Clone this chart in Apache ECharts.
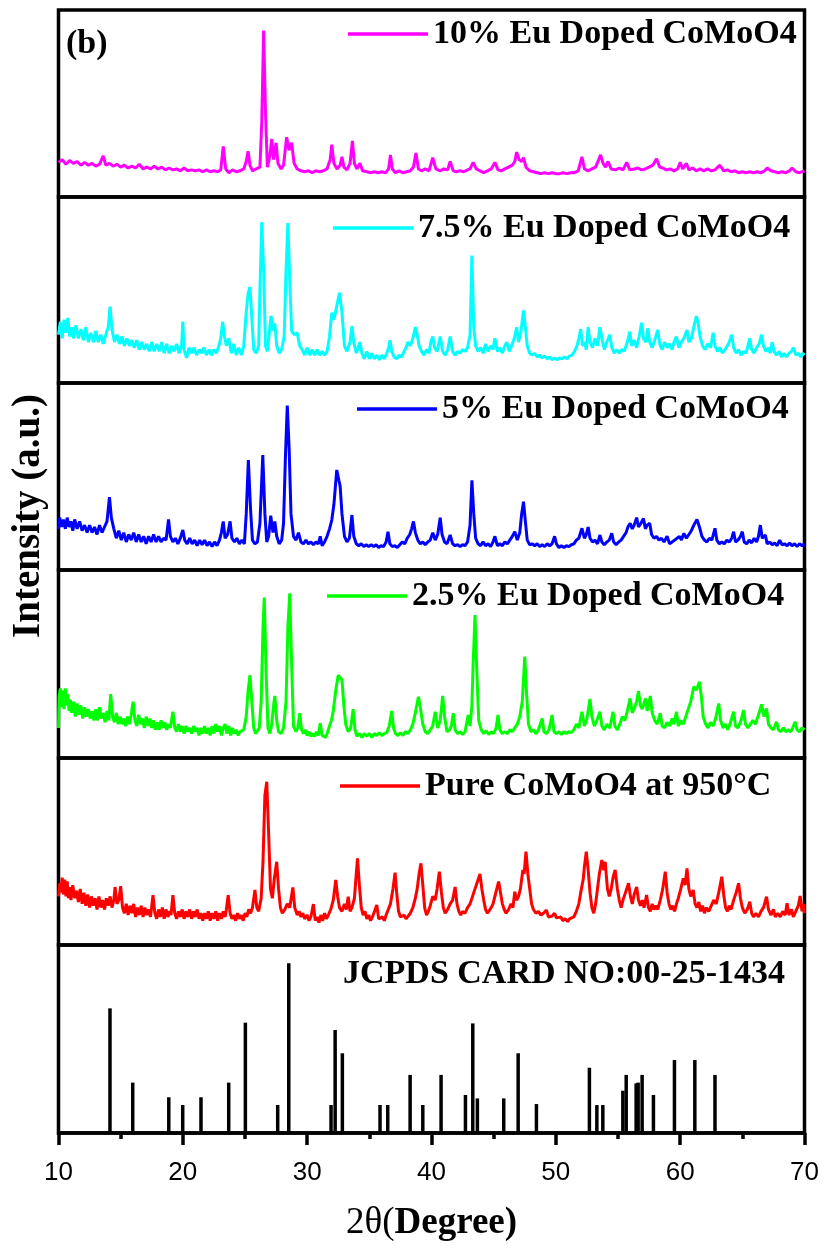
<!DOCTYPE html>
<html>
<head>
<meta charset="utf-8">
<script src="https://cdn.jsdelivr.net/npm/echarts@6/dist/echarts.min.js"></script>
<style>
  html, body { margin: 0; padding: 0; background: #fff; }
  #chart { width: 825px; height: 1255px; }
</style>
</head>
<body>
<div id="chart"></div>
<script>
// sample names, top panel first
const sampleNames = ['10% Eu Doped CoMoO4', '7.5% Eu Doped CoMoO4', '5% Eu Doped CoMoO4', '2.5% Eu Doped CoMoO4', 'Pure CoMoO4 at 950°C'];
const sampleColors = ['#ff00ff', '#00ffff', '#0000ff', '#00ff00', '#ff0000'];
const refName = 'JCPDS CARD NO:00-25-1434';
const xTicks = [10, 20, 30, 40, 50, 60, 70];

// [2theta, intensity a.u.]
const eu10 = [[10.0,18.5],[10.3,20],[10.6,17.5],[10.9,19.5],[11.2,18],[11.5,19],[11.8,17],[12.1,18.5],[12.4,17],[12.7,18],[13.0,16.5],[13.3,17.5],[13.6,22],[13.8,17],[14.1,18],[14.4,16.5],[14.7,17.5],[15.0,16],[15.3,17],[15.6,15.5],[15.9,16.5],[16.2,15.5],[16.5,17.5],[16.8,15],[17.1,16],[17.4,15],[17.7,16.5],[18.0,15],[18.3,16],[18.6,14.5],[18.9,15.5],[19.2,14.5],[19.5,15],[19.8,14],[20.1,15.5],[20.4,14],[20.7,14.5],[21.0,14],[21.3,14.5],[21.6,13.5],[21.9,14.5],[22.2,13.5],[22.5,14],[22.8,13.5],[23.05,14.5],[23.25,27],[23.45,15],[23.7,13],[24.0,14.5],[24.3,13.5],[24.6,14],[24.9,15],[25.1,19],[25.25,24.5],[25.4,17],[25.6,14],[25.9,15],[26.2,16],[26.35,40],[26.5,89],[26.65,45],[26.8,16],[27.0,22],[27.15,31],[27.3,20],[27.5,29],[27.65,18],[27.9,15],[28.1,17],[28.35,32],[28.55,25],[28.75,29],[28.95,18],[29.2,15],[29.5,14],[29.8,13.5],[30.1,14],[30.4,13],[30.7,14],[31.0,13.5],[31.3,14],[31.6,15],[31.85,20],[31.98,28],[32.15,18],[32.4,15],[32.65,17],[32.8,21.5],[32.95,16],[33.2,14.5],[33.45,18],[33.64,30],[33.8,18],[34.0,15],[34.25,18],[34.45,14],[34.8,13.5],[35.1,13],[35.4,13.5],[35.7,13],[36.0,13.5],[36.3,13],[36.55,15],[36.7,22.5],[36.85,15],[37.1,13],[37.4,14],[37.7,13],[38.0,13.5],[38.3,14],[38.55,16],[38.75,23.5],[38.95,15],[39.2,14],[39.5,15],[39.8,14],[40.1,21],[40.35,15],[40.7,14],[41.0,15],[41.3,14.5],[41.5,19],[41.75,14],[42.0,13.5],[42.3,14],[42.6,13.5],[42.9,14.5],[43.1,15],[43.35,18.5],[43.6,15],[43.9,14],[44.2,13],[44.5,14],[44.8,15],[45.1,18.5],[45.35,14.5],[45.6,14],[45.9,15],[46.2,16],[46.5,17],[46.7,19],[46.85,24],[47.05,20],[47.25,19],[47.4,21],[47.6,16],[47.9,14],[48.2,13.5],[48.5,13],[48.8,12.5],[49.1,13],[49.4,12.5],[49.7,13],[50.0,12.5],[50.3,12.5],[50.6,13],[50.9,12.5],[51.2,13],[51.5,13],[51.8,14],[52.1,21.5],[52.3,15],[52.6,14],[52.9,15],[53.2,16],[53.45,20],[53.6,22.5],[53.8,18],[54.0,16],[54.2,19],[54.45,15],[54.8,14.5],[55.1,15.5],[55.4,14.5],[55.7,18.5],[55.95,14.5],[56.3,15],[56.6,15.5],[56.9,14.5],[57.2,15],[57.5,16],[57.8,17],[58.1,20.5],[58.35,16],[58.6,15.5],[58.9,14.5],[59.2,15],[59.5,14],[59.8,15],[60.0,18.5],[60.2,15],[60.5,18],[60.7,14.5],[61.0,15.5],[61.3,14],[61.6,15],[61.9,14],[62.2,15],[62.5,14],[62.8,14.5],[63.2,17],[63.5,14],[63.8,14.5],[64.1,13.5],[64.4,14],[64.7,13],[65.0,13.5],[65.3,13],[65.6,13.5],[65.9,13],[66.2,13.5],[66.5,13],[66.8,14],[67.0,15.5],[67.3,14],[67.6,13.5],[67.9,13],[68.2,13.5],[68.5,13],[68.8,14],[69.0,15.5],[69.3,13.5],[69.6,13],[70.0,14]];

const eu75 = [[10.0,26],[10.15,33],[10.3,24],[10.45,34],[10.6,27],[10.75,35],[10.9,25],[11.05,30],[11.2,24],[11.4,31],[11.6,24],[11.8,29],[12.0,23],[12.2,30],[12.4,22],[12.6,27],[12.8,22],[13.0,28],[13.2,22],[13.4,26],[13.6,21],[13.85,27],[14.0,30],[14.15,41],[14.3,29],[14.5,22],[14.7,26],[14.9,21],[15.1,25],[15.3,20],[15.5,24],[15.7,20],[15.9,23],[16.1,19],[16.3,23],[16.5,18],[16.7,22],[16.9,18],[17.1,21],[17.3,17],[17.5,22],[17.7,17],[17.9,21],[18.1,17],[18.3,22],[18.5,16],[18.7,21],[18.9,16],[19.1,20],[19.3,17],[19.5,21],[19.7,16],[19.9,20],[20.0,33],[20.1,18],[20.3,13.5],[20.5,19],[20.7,16],[20.9,19],[21.1,15],[21.3,18],[21.5,16],[21.7,19],[21.9,15],[22.1,18],[22.3,15],[22.5,18],[22.7,16],[22.9,20],[23.05,24],[23.2,33],[23.35,25],[23.5,20],[23.7,24],[23.9,16],[24.1,21],[24.3,15],[24.5,19],[24.7,15],[24.9,20],[25.1,38],[25.25,48],[25.4,51.6],[25.55,35],[25.7,18],[25.9,16],[26.1,20],[26.2,50],[26.35,86.5],[26.5,60],[26.65,20],[26.8,17],[27.0,30],[27.1,36],[27.25,28],[27.4,32],[27.55,20],[27.75,16],[27.95,18],[28.15,25],[28.3,60],[28.45,86],[28.6,55],[28.75,28],[28.95,26],[29.2,27],[29.4,20],[29.6,18],[29.8,15],[30.0,19],[30.2,15],[30.4,18],[30.6,15],[30.8,18],[31.0,15],[31.2,17],[31.4,15],[31.6,17],[31.8,25],[31.98,37.8],[32.15,34],[32.4,42],[32.6,48.5],[32.8,38],[33.0,20],[33.2,17],[33.45,22],[33.6,30.6],[33.75,22],[33.95,16],[34.1,19],[34.25,22],[34.4,16],[34.6,13],[34.8,17],[35.0,13],[35.2,16],[35.4,13],[35.6,15],[35.8,12.5],[36.0,15],[36.2,13],[36.4,16],[36.55,19],[36.67,23],[36.8,17],[37.0,14],[37.2,13],[37.4,15],[37.6,14],[37.8,17],[37.95,19],[38.1,22],[38.3,20],[38.5,24],[38.7,30],[38.85,26],[39.0,20],[39.2,17],[39.4,15],[39.6,18],[39.8,16],[39.95,22],[40.1,25],[40.25,19],[40.45,17],[40.7,25],[40.9,17],[41.1,15],[41.3,18],[41.5,25],[41.7,17],[41.9,15],[42.1,17],[42.3,16],[42.5,18],[42.7,17],[42.9,19],[43.1,26],[43.25,68.5],[43.4,30],[43.55,20],[43.75,17],[43.95,19],[44.15,16],[44.35,21],[44.55,17],[44.75,20],[44.95,18],[45.1,24],[45.3,17],[45.5,19],[45.7,16],[45.9,20],[46.05,22],[46.25,17],[46.5,21],[46.7,25],[46.85,30],[47.0,22],[47.2,28],[47.4,39],[47.55,30],[47.7,20],[47.9,16],[48.1,15],[48.3,16],[48.5,14],[48.7,15],[48.9,13.5],[49.1,14.5],[49.3,13],[49.5,14],[49.7,12.5],[49.9,13.5],[50.1,12.5],[50.3,13.5],[50.5,13],[50.7,14],[50.9,13],[51.1,14.5],[51.3,15],[51.5,17],[51.7,20],[51.85,24],[52.0,29],[52.15,20],[52.3,22],[52.45,18],[52.6,30],[52.75,22],[52.95,19],[53.15,24],[53.35,20],[53.55,30],[53.7,24],[53.9,18],[54.1,22],[54.35,26],[54.5,19],[54.7,16],[54.9,18],[55.1,16],[55.3,18],[55.5,17],[55.75,22],[55.95,27.6],[56.1,20],[56.3,23],[56.5,19],[56.7,25],[56.9,32.4],[57.05,24],[57.25,22],[57.4,29.5],[57.55,22],[57.75,19],[57.95,23],[58.2,28.5],[58.35,21],[58.55,18],[58.75,22],[58.95,19],[59.15,21],[59.35,18],[59.5,22],[59.7,25],[59.9,19],[60.1,22],[60.3,24],[60.55,28.5],[60.7,22],[60.9,24],[61.1,30],[61.3,36],[61.45,32],[61.6,25],[61.8,20],[62.0,18],[62.2,21],[62.45,19],[62.65,27],[62.8,20],[63.0,17],[63.2,19],[63.4,16],[63.6,18],[63.8,20],[63.95,22],[64.15,26],[64.3,19],[64.5,16],[64.7,18],[64.9,15],[65.1,17],[65.3,16],[65.45,20],[65.6,24],[65.75,18],[65.95,16],[66.15,19],[66.35,21],[66.55,26],[66.7,20],[66.9,17],[67.1,19],[67.25,16],[67.4,22],[67.55,17],[67.75,15],[67.95,17],[68.15,14],[68.35,16],[68.55,14],[68.75,16],[68.95,17],[69.1,19],[69.3,15],[69.5,16],[69.7,14],[69.85,16],[70.0,15]];

const eu5 = [[10.0,22],[10.1,28],[10.25,23],[10.4,27],[10.55,22],[10.7,28],[10.85,23],[11.0,26],[11.15,21],[11.3,27],[11.5,22],[11.7,26],[11.9,21],[12.1,24],[12.3,20],[12.5,24],[12.7,20],[12.9,23],[13.1,19],[13.3,24],[13.5,20],[13.7,23],[13.9,26],[14.1,39],[14.25,28],[14.45,22],[14.65,17],[14.85,21],[15.05,16],[15.25,20],[15.45,15],[15.65,19],[15.85,16],[16.05,20],[16.25,15],[16.45,19],[16.65,15],[16.85,18],[17.05,14],[17.25,18],[17.45,15],[17.65,19],[17.85,15],[18.05,18],[18.25,15],[18.45,17],[18.65,16],[18.85,27],[19.0,18],[19.2,15],[19.4,17],[19.6,14],[19.8,17],[20.0,21.4],[20.15,16],[20.35,14],[20.55,17],[20.75,14],[20.95,16],[21.15,13],[21.35,16],[21.55,13.5],[21.75,16],[21.95,13],[22.15,15],[22.35,12.5],[22.55,15],[22.75,13],[22.95,16],[23.1,20],[23.25,26],[23.4,17],[23.6,19],[23.8,26],[23.95,17],[24.15,15],[24.35,17],[24.55,14],[24.75,16],[24.95,14],[25.1,30],[25.27,58.8],[25.45,32],[25.6,16],[25.8,14],[26.0,15],[26.2,25],[26.43,61.5],[26.6,30],[26.75,15],[26.9,18],[27.07,29],[27.25,20],[27.4,26],[27.55,18],[27.75,14],[27.95,16],[28.1,25],[28.25,60],[28.4,88],[28.55,65],[28.7,30],[28.9,18],[29.1,16],[29.3,20],[29.5,15],[29.7,14],[29.9,16],[30.1,14],[30.3,15],[30.5,13.5],[30.7,15],[30.9,14],[31.05,18],[31.2,13],[31.4,15],[31.6,18],[31.8,22],[31.98,26.7],[32.15,35],[32.38,53.5],[32.55,48],[32.65,45],[32.8,30],[33.0,18],[33.2,15],[33.4,17],[33.6,29.4],[33.75,18],[33.95,14],[34.15,13],[34.35,14],[34.55,12.5],[34.75,13.5],[34.95,12.5],[35.15,13.5],[35.35,12.5],[35.55,13.5],[35.75,12],[35.95,13],[36.15,12.5],[36.35,15],[36.5,20.5],[36.65,14],[36.85,12.5],[37.05,13],[37.25,12],[37.45,13.5],[37.65,15],[37.85,14],[38.05,17],[38.25,19],[38.4,22],[38.55,26],[38.7,20],[38.9,16],[39.1,14],[39.3,15],[39.5,13.5],[39.7,15],[39.9,16],[40.1,20],[40.3,16],[40.5,19],[40.7,28],[40.85,19],[41.05,15],[41.25,14],[41.5,18.7],[41.7,14],[41.9,13],[42.1,13.5],[42.3,12.5],[42.5,13.5],[42.7,13],[42.9,15],[43.1,24],[43.25,48],[43.4,30],[43.55,17],[43.75,14],[43.95,13],[44.15,15],[44.35,13],[44.55,14],[44.75,12.5],[44.95,15],[45.1,18],[45.3,13],[45.5,14],[45.7,13],[45.9,15],[46.1,14],[46.3,16],[46.5,18],[46.7,20.5],[46.9,16],[47.1,20],[47.25,30],[47.4,36.5],[47.55,26],[47.7,16],[47.9,13.5],[48.1,14],[48.3,13],[48.5,14],[48.7,12.5],[48.9,13.5],[49.1,12.5],[49.3,14],[49.5,13],[49.7,14],[49.9,18],[50.05,14],[50.25,12],[50.45,13],[50.65,12],[50.85,13],[51.05,12.5],[51.25,13.5],[51.45,14],[51.65,16],[51.85,17],[52.1,22.3],[52.3,17],[52.45,19],[52.6,23],[52.75,17],[52.95,15],[53.15,16],[53.35,14],[53.55,18.7],[53.7,15],[53.9,13.5],[54.1,15],[54.3,16],[54.5,19.6],[54.65,15],[54.85,13.5],[55.05,15],[55.25,16],[55.45,18],[55.65,20],[55.8,23],[55.98,25],[56.15,22],[56.3,24],[56.5,28],[56.65,23],[56.85,25],[57.05,27.6],[57.2,22],[57.35,24],[57.55,25],[57.7,19],[57.9,17],[58.1,18],[58.3,16],[58.5,17],[58.7,15],[58.95,18],[59.15,14],[59.35,15],[59.55,16],[59.75,17],[59.95,18],[60.1,16],[60.3,19.6],[60.5,17],[60.7,19],[60.9,21],[61.1,24],[61.35,27],[61.55,23],[61.75,18],[61.95,16],[62.15,15],[62.35,17],[62.55,16],[62.8,22.3],[62.95,16],[63.15,14],[63.35,15],[63.55,14],[63.75,16],[63.95,15],[64.15,17],[64.3,20.5],[64.45,15],[64.65,16],[64.85,18],[65.0,20.5],[65.15,15],[65.35,14],[65.55,16],[65.75,14.5],[65.95,17],[66.15,15],[66.3,18],[66.45,24],[66.6,17],[66.85,18.7],[67.0,14],[67.2,15],[67.4,13.5],[67.6,14.5],[67.8,13],[68.0,16],[68.2,13.5],[68.4,14],[68.6,13],[68.8,14.5],[69.0,13],[69.2,14],[69.4,12.5],[69.6,14],[69.8,13],[70.0,14]];

const eu25 = [[10.0,16],[10.05,33],[10.15,37],[10.25,27],[10.35,36],[10.45,26],[10.55,37],[10.65,28],[10.75,34],[10.85,25],[10.95,31],[11.05,24],[11.2,30],[11.35,22],[11.5,29],[11.65,23],[11.8,28],[11.95,21],[12.1,27],[12.25,22],[12.4,26],[12.55,21],[12.7,25],[12.85,20],[13.0,26],[13.15,20],[13.3,27],[13.45,21],[13.6,24],[13.75,19],[13.9,25],[14.05,20],[14.2,34],[14.35,22],[14.5,19],[14.65,24],[14.8,18],[14.95,22],[15.1,18],[15.25,21],[15.4,17],[15.55,22],[15.7,18],[15.85,23],[16.0,30],[16.15,20],[16.3,17],[16.45,23],[16.6,18],[16.75,21],[16.9,16],[17.05,22],[17.2,17],[17.35,21],[17.5,16],[17.65,20],[17.8,15],[17.95,19],[18.1,15],[18.25,20],[18.4,16],[18.55,19],[18.7,15],[18.85,18],[19.0,16],[19.2,24.6],[19.35,16],[19.5,14],[19.65,18],[19.8,14],[19.95,17],[20.1,13],[20.25,17],[20.4,14],[20.55,16],[20.7,13],[20.85,17],[21.0,14],[21.15,16],[21.3,12],[21.45,16],[21.6,13],[21.75,17],[21.9,13],[22.05,16],[22.2,12],[22.35,17],[22.5,13],[22.65,18],[22.8,14],[22.95,17],[23.1,12],[23.25,16],[23.4,18],[23.55,13],[23.7,17],[23.85,12],[24.0,16],[24.15,13],[24.3,15],[24.45,12],[24.6,14],[24.75,13],[24.9,15],[25.1,22],[25.25,36],[25.4,44],[25.55,30],[25.7,16],[25.85,13],[26.0,14],[26.15,16],[26.3,30],[26.45,70],[26.55,85.3],[26.7,45],[26.85,16],[27.0,13],[27.15,18],[27.3,28],[27.4,33],[27.55,20],[27.7,14],[27.9,13],[28.1,16],[28.3,30],[28.45,70],[28.6,87.6],[28.75,50],[28.9,17],[29.1,14],[29.25,16],[29.4,23.8],[29.55,15],[29.7,13],[29.85,15],[30.0,12],[30.15,14],[30.3,11.5],[30.45,13],[30.6,11.5],[30.75,14],[30.9,12],[31.05,18.5],[31.2,12],[31.35,13],[31.5,11],[31.65,14],[31.8,17],[31.95,20],[32.1,25],[32.3,36],[32.5,44],[32.65,43],[32.8,41.5],[32.95,28],[33.1,18],[33.3,14],[33.5,16],[33.7,26],[33.85,15],[34.0,11.5],[34.2,13],[34.4,11],[34.6,13],[34.8,11.5],[35.0,13],[35.2,11],[35.4,13],[35.6,12],[35.8,13.5],[36.0,12],[36.2,13],[36.4,13.5],[36.6,17],[36.8,25],[36.95,16],[37.1,13],[37.3,12],[37.5,13.5],[37.7,12],[37.9,14],[38.1,13],[38.3,15],[38.5,18],[38.7,24],[38.95,32.6],[39.1,27],[39.3,18],[39.5,14],[39.7,13],[39.9,15],[40.1,17],[40.3,24.6],[40.5,16],[40.7,20],[40.9,33],[41.05,22],[41.25,14],[41.45,15],[41.6,17],[41.75,23.8],[41.9,15],[42.1,13],[42.3,14],[42.5,12.5],[42.7,14],[42.95,22.9],[43.1,17],[43.25,28],[43.35,50],[43.5,76],[43.65,45],[43.8,20],[44.0,15],[44.2,13],[44.4,14.5],[44.6,12.5],[44.8,14],[45.0,13],[45.2,16],[45.35,22.9],[45.5,15],[45.7,13],[45.9,14],[46.1,13],[46.3,15],[46.5,14],[46.7,16],[46.9,18],[47.1,22],[47.3,30],[47.5,53.9],[47.65,34],[47.8,18],[48.0,14],[48.2,15],[48.4,13],[48.6,15],[48.75,14],[48.9,21],[49.05,14],[49.25,13],[49.45,15],[49.7,22.9],[49.85,14],[50.05,13],[50.25,14],[50.45,12.5],[50.65,14],[50.85,13],[51.05,14],[51.25,13.5],[51.45,15],[51.65,18],[51.85,16],[52.1,24.6],[52.3,17],[52.5,21],[52.75,31.4],[52.9,22],[53.1,17],[53.3,20],[53.55,24.6],[53.7,17],[53.9,15],[54.1,18],[54.35,16],[54.6,24.6],[54.75,17],[54.95,15],[55.15,18],[55.35,22],[55.55,20],[55.75,25],[55.97,31.7],[56.15,24],[56.35,27],[56.5,30],[56.65,35.6],[56.8,28],[56.95,26],[57.1,29],[57.2,31.7],[57.35,25],[57.6,33],[57.75,24],[57.95,20],[58.15,18],[58.4,23.8],[58.55,17],[58.75,16],[58.95,19],[59.15,17],[59.35,21],[59.5,18],[59.7,24.6],[59.85,17],[60.05,20],[60.25,18],[60.45,22],[60.65,26],[60.85,30],[61.1,38],[61.3,36],[61.55,40.6],[61.7,33],[61.85,22],[62.05,18],[62.25,16],[62.45,19],[62.65,17],[62.85,21],[63.1,29],[63.25,20],[63.45,16],[63.65,18],[63.85,15],[64.05,19],[64.3,24.6],[64.45,17],[64.65,16],[64.9,20],[65.1,25.5],[65.25,18],[65.45,16],[65.65,18],[65.85,20],[66.05,18],[66.25,22],[66.55,28.5],[66.75,22],[66.95,26.4],[67.1,18],[67.3,16],[67.5,15],[67.75,19.3],[67.9,15],[68.1,14],[68.3,16],[68.5,14],[68.7,15],[68.9,14],[69.05,16],[69.25,19.3],[69.4,15],[69.6,14],[69.8,16],[70.0,15]];

const pure = [[10.0,26],[10.1,33],[10.2,28],[10.3,36],[10.4,27],[10.5,35],[10.6,26],[10.7,34],[10.8,25],[10.9,31],[11.0,24],[11.15,32],[11.3,25],[11.45,29],[11.6,23],[11.75,30],[11.9,22],[12.05,28],[12.2,21],[12.35,27],[12.5,20],[12.65,26],[12.8,21],[12.95,25],[13.1,19],[13.25,26],[13.4,20],[13.55,24],[13.7,19],[13.85,25],[14.0,21],[14.15,26],[14.3,20],[14.45,24],[14.55,31],[14.7,22],[14.85,24],[15.0,31.5],[15.15,20],[15.3,17],[15.45,22],[15.6,16],[15.75,21],[15.9,17],[16.05,22],[16.2,15],[16.35,20],[16.5,16],[16.65,21],[16.8,15],[16.95,20],[17.1,16],[17.25,19],[17.4,15],[17.6,26.7],[17.75,17],[17.9,14],[18.05,19],[18.2,15],[18.35,20],[18.5,14],[18.65,19],[18.8,15],[18.95,18],[19.05,16],[19.2,26.7],[19.35,17],[19.5,14],[19.65,18],[19.8,15],[19.95,19],[20.1,14],[20.25,18],[20.4,15],[20.55,19],[20.7,14],[20.85,18],[21.0,15],[21.15,19],[21.3,14],[21.45,17],[21.6,13],[21.75,17],[21.9,14],[22.05,18],[22.2,13],[22.35,17],[22.5,14],[22.65,18],[22.8,13],[22.95,17],[23.1,14],[23.25,18],[23.4,15],[23.5,19],[23.65,26.7],[23.8,17],[23.95,14],[24.1,16],[24.25,13],[24.4,17],[24.55,14],[24.7,16],[24.85,13],[25.0,17],[25.15,15],[25.3,19],[25.45,17],[25.6,20],[25.8,29.4],[25.95,20],[26.1,18],[26.3,25],[26.45,45],[26.6,80],[26.75,87.3],[26.9,60],[27.05,30],[27.2,25],[27.35,35],[27.55,44.5],[27.7,30],[27.85,20],[28.0,17],[28.2,19],[28.4,22],[28.6,20],[28.85,30.8],[29.0,20],[29.2,16],[29.35,18],[29.5,15],[29.65,17],[29.8,14],[30.0,16],[30.15,13],[30.3,15],[30.5,21.9],[30.65,13],[30.8,15],[30.95,12],[31.1,16],[31.25,13],[31.4,17],[31.55,14],[31.7,16],[31.9,19],[32.1,24],[32.3,34.8],[32.45,26],[32.6,20],[32.8,18],[33.0,22],[33.15,19],[33.3,25.8],[33.45,18],[33.6,20],[33.8,25],[33.95,38],[34.05,46.3],[34.2,32],[34.35,20],[34.5,16],[34.65,18],[34.8,14],[34.95,16],[35.1,13],[35.25,15],[35.4,14],[35.6,21.4],[35.75,14],[35.9,13],[36.05,15],[36.2,13],[36.35,16],[36.5,17],[36.7,22],[36.9,30],[37.07,38.7],[37.2,28],[37.35,18],[37.5,15],[37.65,14],[37.8,16],[37.95,14],[38.1,15],[38.3,17],[38.5,20],[38.7,25],[38.85,30],[39.0,38],[39.15,43.7],[39.3,32],[39.45,20],[39.6,16],[39.75,18],[39.9,21],[40.1,26],[40.3,24],[40.45,30],[40.63,39.2],[40.8,28],[40.95,20],[41.1,17],[41.3,19],[41.5,22],[41.7,24],[41.9,31],[42.05,22],[42.2,18],[42.35,16],[42.5,18],[42.7,17],[42.9,20],[43.1,22],[43.3,26],[43.5,30],[43.7,34],[43.9,38],[44.05,30],[44.2,24],[44.35,19],[44.5,17],[44.65,18],[44.8,20],[44.95,22],[45.1,26],[45.25,30],[45.4,33.9],[45.55,28],[45.7,22],[45.85,19],[46.0,17],[46.2,19],[46.4,22],[46.55,20],[46.7,28.5],[46.85,24],[47.0,26],[47.15,30],[47.35,40.1],[47.45,38],[47.6,49.9],[47.75,38],[47.9,30],[48.05,22],[48.2,19],[48.4,17],[48.6,18],[48.8,16],[49.0,17],[49.25,18.7],[49.4,15],[49.55,14],[49.7,15.5],[49.9,17],[50.05,14.5],[50.2,13.5],[50.4,15],[50.55,13],[50.75,14],[50.95,12.5],[51.1,14],[51.25,13],[51.45,15],[51.65,18],[51.85,22],[52.0,28],[52.2,35],[52.3,42],[52.45,49.9],[52.6,40],[52.75,28],[52.9,20],[53.05,17],[53.2,22],[53.35,30],[53.5,38],[53.7,45.5],[53.85,40],[53.97,44.5],[54.15,30],[54.3,26],[54.45,30],[54.6,36],[54.77,40.1],[54.95,30],[55.1,24],[55.25,20],[55.4,24],[55.6,28],[55.85,33],[56.0,26],[56.15,22],[56.3,27],[56.5,31],[56.65,24],[56.8,21],[56.95,24],[57.1,20],[57.3,26.7],[57.45,20],[57.6,18],[57.75,22],[57.9,19],[58.05,21],[58.2,19],[58.4,24],[58.6,30],[58.8,39.2],[58.95,28],[59.1,22],[59.25,19],[59.4,21],[59.55,18],[59.7,22],[59.85,25],[60.05,30],[60.25,35.7],[60.4,32],[60.55,41],[60.7,30],[60.85,26],[61.05,29.4],[61.2,22],[61.35,20],[61.5,23],[61.65,18],[61.8,21],[61.95,17],[62.1,20],[62.3,18],[62.5,21],[62.7,24],[62.9,22],[63.1,28],[63.35,36.5],[63.5,27],[63.65,20],[63.8,18],[63.95,21],[64.1,19],[64.3,24],[64.5,28],[64.7,33],[64.85,25],[65.0,20],[65.2,17],[65.4,19],[65.6,23.2],[65.75,17],[65.9,15],[66.1,17],[66.3,15],[66.5,18],[66.7,20],[66.95,25.8],[67.1,19],[67.3,16],[67.5,19],[67.65,15],[67.85,17],[68.05,15],[68.25,18],[68.45,16],[68.6,22.3],[68.75,16],[68.95,19],[69.1,15],[69.3,18],[69.5,21],[69.65,26.2],[69.8,18],[69.9,22],[70.0,17]];

// reference card: peak positions and relative heights
const refPos = [14.14, 15.97, 18.87, 19.99, 21.46, 23.69, 25.03, 27.63, 28.52, 31.92, 32.25, 32.83, 35.86, 36.48, 38.28, 39.3, 40.77, 42.73, 43.32, 43.69, 45.81, 46.97, 48.44, 52.7, 53.3, 53.78, 55.39, 55.66, 56.46, 56.62, 56.94, 57.85, 59.54, 61.18, 62.8];
const refInt = [66.3, 26.8, 19, 14.9, 19, 26.8, 58.7, 14.9, 90.3, 14.9, 54.8, 42.4, 14.9, 14.9, 30.9, 14.9, 30.9, 20.2, 58.3, 18.4, 18.4, 42.4, 15.4, 34.7, 14.9, 14.9, 22.5, 30.9, 26.4, 26.8, 30.9, 20.2, 38.8, 38.8, 30.9];

const sampleData = [eu10, eu75, eu5, eu25, pure];

const panelTop = [10, 197, 383, 570, 758, 945];
const panelH = [187, 186, 187, 188, 187, 188];
const legendPos = [[348, 17], [333, 211], [357, 392], [327, 579], [340, 769]];

const serif = '"Liberation Serif", "Times New Roman", serif';
const black = '#000';

const chart = echarts.init(document.getElementById('chart'), null, { renderer: 'canvas' });

const grids = panelTop.map((t, i) => ({
  left: 58.5, right: 20.5, top: t, height: panelH[i],
  show: true, borderColor: black, borderWidth: 3.5, backgroundColor: 'transparent'
}));

const xAxes = panelTop.map((t, i) => {
  if (i < 5) return { gridIndex: i, type: 'value', min: 10, max: 70, show: false };
  return {
    gridIndex: i, type: 'value', min: xTicks[0], max: xTicks[xTicks.length - 1], interval: 10,
    axisLine: { onZero: false, lineStyle: { color: black, width: 3.5 } },
    axisTick: { inside: false, length: 12, lineStyle: { color: black, width: 3.5 } },
    minorTick: { show: true, splitNumber: 2, length: 6, lineStyle: { color: black, width: 3.5 } },
    splitLine: { show: false },
    axisLabel: { color: black, fontFamily: '"Liberation Sans", Arial, sans-serif', fontSize: 26, margin: 27 },
    name: '{a|2θ(}{b|Degree)}',
    nameLocation: 'middle',
    nameGap: 72,
    nameTextStyle: {
      rich: {
        a: { fontFamily: serif, fontSize: 37, color: black },
        b: { fontFamily: serif, fontSize: 37, fontWeight: 'bold', color: black }
      }
    }
  };
});

const yAxes = panelTop.map((t, i) => ({ gridIndex: i, type: 'value', min: 0, max: 100, show: false }));

const series = sampleData.map((d, i) => ({
  name: sampleNames[i],
  type: 'line',
  xAxisIndex: i, yAxisIndex: i,
  data: d,
  symbol: 'none',
  lineStyle: { color: sampleColors[i], width: 3 },
  itemStyle: { color: sampleColors[i] }
}));
series.push({
  name: refName,
  type: 'bar',
  xAxisIndex: 5, yAxisIndex: 5,
  barWidth: 3.5,
  itemStyle: { color: black },
  data: refPos.map((p, i) => [p, refInt[i]])
});

const legends = sampleNames.map((n, i) => ({
  data: [n],
  left: legendPos[i][0], top: legendPos[i][1],
  padding: 0, itemGap: 0,
  icon: 'rect', itemWidth: 80, itemHeight: 3.5,
  selectedMode: false,
  textStyle: { fontFamily: serif, fontWeight: 'bold', fontSize: 34, color: black }
}));

chart.setOption({
  animation: false,
  backgroundColor: '#fff',
  grid: grids,
  xAxis: xAxes,
  yAxis: yAxes,
  legend: legends,
  series: series,
  graphic: [
    { type: 'text', left: 66, top: 27, style: { text: '(b)', font: 'bold 34px ' + serif, fill: black } },
    { type: 'text', left: 343, top: 957, style: { text: refName, font: 'bold 34px ' + serif, fill: black } },
    { type: 'text', x: 29, y: 516, rotation: Math.PI / 2,
      style: { text: 'Intensity (a.u.)', font: 'bold 39px ' + serif, fill: black, align: 'center', verticalAlign: 'middle' } }
  ]
});
</script>
</body>
</html>
